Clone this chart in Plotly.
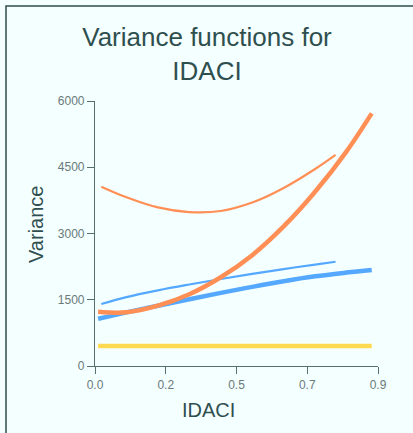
import plotly.graph_objects as go

# ---- data ----
x_thick = [0.01, 0.1, 0.2, 0.3, 0.4, 0.5, 0.6, 0.7, 0.8, 0.88]
x_thin = [0.02, 0.1, 0.2, 0.3, 0.4, 0.5, 0.6, 0.7, 0.765]

orange_thick = [1228, 1215, 1365, 1625, 2010, 2510, 3160, 3945, 4860, 5720]
blue_thick = [1070, 1215, 1365, 1512, 1655, 1792, 1920, 2030, 2115, 2175]
yellow_thick = [455, 455, 455, 455, 455, 455, 455, 455, 455, 455]
orange_thin = [4060, 3820, 3590, 3485, 3510, 3700, 4030, 4460, 4780]
blue_thin = [1405, 1560, 1712, 1845, 1970, 2085, 2195, 2295, 2360]

x_tickvals = [0, 0.225, 0.45, 0.675, 0.9]
x_ticktext = ["0.0", "0.2", "0.5", "0.7", "0.9"]
y_tickvals = [0, 1500, 3000, 4500, 6000]
y_ticktext = ["0", "1500", "3000", "4500", "6000"]

ORANGE = "#FF8F55"
BLUE = "#55A8FF"
YELLOW = "#FFD94F"
DARK = "#2F4F4F"
BG = "#F4FFFF"

W, H = 413, 433
L, R, T, B = 95, 35, 101, 67
pw, ph = W - L - R, H - T - B

fig = go.Figure()
series = [
    (x_thick, yellow_thick, YELLOW, 4.5),
    (x_thick, blue_thick, BLUE, 4.5),
    (x_thin, blue_thin, BLUE, 2.2),
    (x_thin, orange_thin, ORANGE, 2.2),
    (x_thick, orange_thick, ORANGE, 4.5),
]
for xs, ys, c, w in series:
    fig.add_trace(go.Scatter(x=xs, y=ys, mode="lines",
                             line=dict(color=c, width=w, shape="spline",
                                       smoothing=1.0),
                             showlegend=False, hoverinfo="skip"))

def px2paper_x(p):
    return (p - L) / pw

def px2paper_y(p):
    return (H - B - p) / ph

fig.update_layout(
    width=W, height=H,
    margin=dict(l=L, r=R, t=T, b=B),
    paper_bgcolor=BG, plot_bgcolor=BG,
    font=dict(family="Liberation Sans, Arial, sans-serif", color=DARK),
    title=dict(text="Variance functions for<br>IDACI", x=207 / W,
               xref="container", xanchor="center",
               y=1 - 46 / H, yref="container", yanchor="middle",
               font=dict(size=26, color=DARK,
                         family="Liberation Sans, Arial, sans-serif")),
    xaxis=dict(range=[0, 0.9], tickvals=x_tickvals, ticktext=x_ticktext,
               showgrid=False, zeroline=False, showline=True,
               linecolor="#566f6f", linewidth=1.2, ticks="outside",
               ticklen=7, tickcolor="#566f6f", tickwidth=1.2,
               tickfont=dict(size=12, color="#6a7a7a")),
    yaxis=dict(range=[0, 6000], tickvals=y_tickvals, ticktext=y_ticktext,
               showgrid=False, zeroline=False, showline=True,
               linecolor="#566f6f", linewidth=1.2, ticks="outside",
               ticklen=7, tickcolor="#566f6f", tickwidth=1.2,
               tickfont=dict(size=12, color="#6a7a7a")),
    shapes=[dict(type="rect", xref="paper", yref="paper",
                 x0=px2paper_x(6), x1=px2paper_x(W + 20),
                 y0=px2paper_y(H + 20), y1=px2paper_y(6),
                 line=dict(color=DARK, width=1.5), fillcolor="rgba(0,0,0,0)",
                 layer="below")],
    annotations=[
        dict(text="IDACI", xref="paper", yref="paper",
             x=px2paper_x(208), y=px2paper_y(410),
             xanchor="center", yanchor="middle", showarrow=False,
             font=dict(size=20, color=DARK)),
        dict(text="Variance", xref="paper", yref="paper",
             x=px2paper_x(36), y=px2paper_y(225), textangle=-90,
             xanchor="center", yanchor="middle", showarrow=False,
             font=dict(size=20, color=DARK)),
    ],
)

fig.write_html(
    "out.html",
    config={"displayModeBar": False},
    post_script="document.body.style.margin='0';"
                "document.body.style.background='" + BG + "';",
)
